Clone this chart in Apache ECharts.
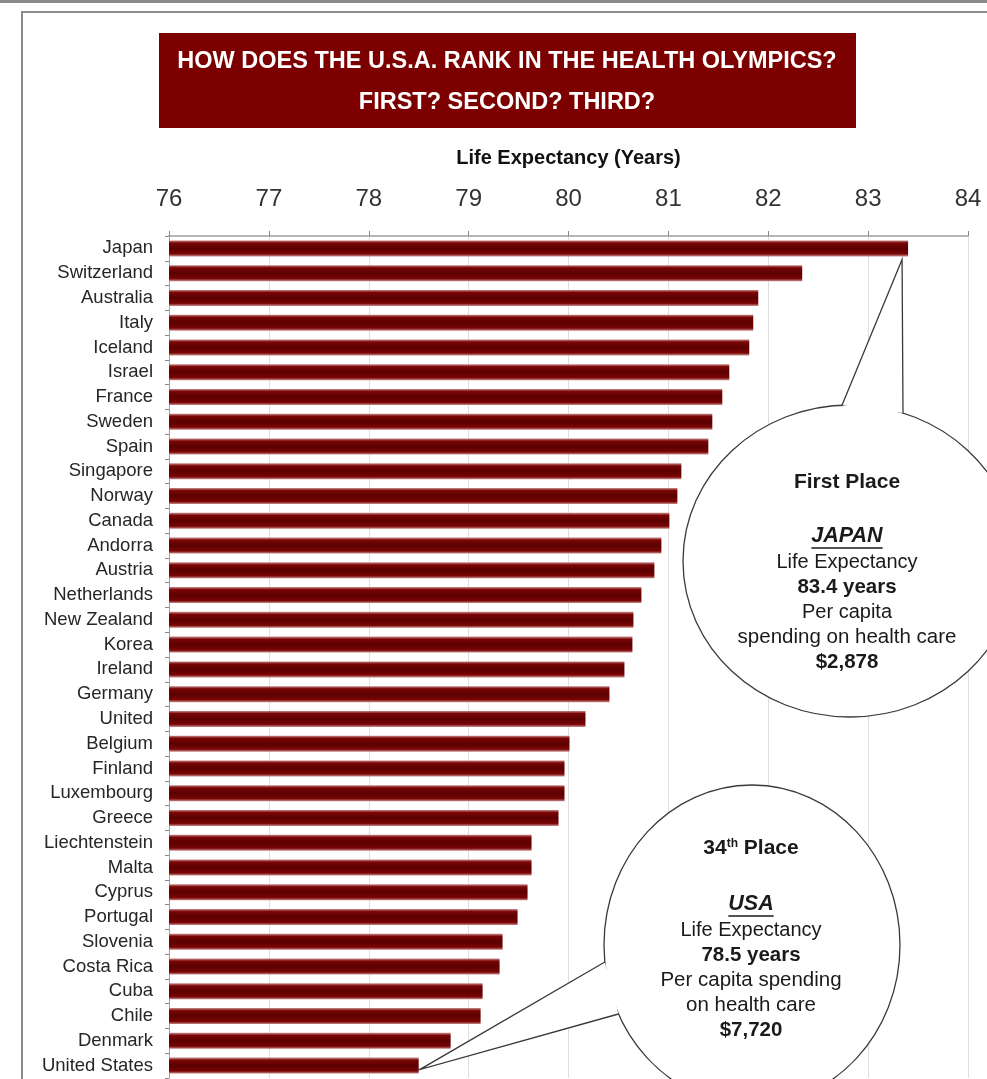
<!DOCTYPE html>
<html><head><meta charset="utf-8">
<script src="https://cdn.jsdelivr.net/npm/echarts@6/dist/echarts.min.js"></script>
<style>html,body{margin:0;padding:0;background:#fff}#c{width:987px;height:1079px}</style>
</head><body><div id="c"></div><script>
// ---- data ----
const countries = ['Japan','Switzerland','Australia','Italy','Iceland','Israel','France','Sweden','Spain','Singapore','Norway','Canada','Andorra','Austria','Netherlands','New Zealand','Korea','Ireland','Germany','United','Belgium','Finland','Luxembourg','Greece','Liechtenstein','Malta','Cyprus','Portugal','Slovenia','Costa Rica','Cuba','Chile','Denmark','United States'];
const lifeExpectancy = [83.4,82.34,81.9,81.85,81.81,81.61,81.54,81.44,81.4,81.13,81.09,81.01,80.93,80.86,80.73,80.65,80.64,80.56,80.41,80.17,80.01,79.96,79.96,79.9,79.63,79.63,79.59,79.49,79.34,79.31,79.14,79.12,78.82,78.5];
const xTickLabels = [76,77,78,79,80,81,82,83,84];
const titleLines = ['HOW DOES THE U.S.A. RANK IN THE HEALTH OLYMPICS?','FIRST? SECOND? THIRD?'];
const axisTitle = 'Life Expectancy (Years)';
const callout1Lines = ['First Place','JAPAN','Life Expectancy','83.4 years','Per capita','spending on health care','$2,878'];
const callout2Lines = ['34','th',' Place','USA','Life Expectancy','78.5 years','Per capita spending','on health care','$7,720'];

const FF = "'Liberation Sans', Arial, sans-serif";

const chart = echarts.init(document.getElementById('c'), null, {renderer:'canvas'});

const barGradient = new echarts.graphic.LinearGradient(0,0,0,1,[
  {offset:0, color:'#c98a8a'},
  {offset:0.16, color:'#7a0505'},
  {offset:0.5, color:'#5c0000'},
  {offset:0.84, color:'#7a0505'},
  {offset:1, color:'#c98a8a'}
]);

chart.setOption({
  animation:false,
  backgroundColor:'#fff',
  grid:{left:169, right:19, top:236, bottom:1},
  xAxis:{
    type:'value', position:'top',
    min:xTickLabels[0], max:xTickLabels[xTickLabels.length-1], interval:1,
    name:axisTitle, nameLocation:'middle', nameGap:68,
    nameTextStyle:{fontFamily:FF, fontWeight:'bold', fontSize:20, color:'#111'},
    axisLine:{show:true, lineStyle:{color:'#9aa0a6', width:1.5}},
    axisTick:{show:true, length:5, lineStyle:{color:'#888'}},
    axisLabel:{fontFamily:FF, fontSize:24, color:'#333', margin:25},
    splitLine:{show:true, lineStyle:{color:'#dedede', width:1}}
  },
  yAxis:{
    type:'category', data:countries, inverse:true,
    axisLine:{show:true, lineStyle:{color:'#a0a0a0'}},
    axisTick:{show:true, length:4, lineStyle:{color:'#888'}},
    axisLabel:{fontFamily:FF, fontSize:18.5, color:'#262626', margin:16, interval:0},
    splitLine:{show:false}
  },
  series:[{
    type:'bar', data:lifeExpectancy, barWidth:16,
    itemStyle:{color:barGradient, shadowColor:'rgba(210,130,130,0.35)', shadowBlur:3}
  }]
});

const measureCtx = document.createElement('canvas').getContext('2d');
function textWidth(t, font){ measureCtx.font = font; return measureCtx.measureText(t).width; }

function txt(x, y, t, size, weight, style){
  return {type:'text', z:30, style:{x:x, y:y, text:t, fill:'#1a1a1a', fontFamily:FF, fontSize:size,
    fontWeight:weight||'normal', fontStyle:style||'normal', align:'center', verticalAlign:'middle'}};
}

function bubble(e, tip, p1, p2, side){
  let b1, b2;
  if (side === 'top'){
    b1 = [p1, e.cy - e.ry*Math.sqrt(1-Math.pow((p1-e.cx)/e.rx,2))];
    b2 = [p2, e.cy - e.ry*Math.sqrt(1-Math.pow((p2-e.cx)/e.rx,2))];
  } else {
    b1 = [e.cx - e.rx*Math.sqrt(1-Math.pow((p1-e.cy)/e.ry,2)), p1];
    b2 = [e.cx - e.rx*Math.sqrt(1-Math.pow((p2-e.cy)/e.ry,2)), p2];
  }
  return [
    {type:'ellipse', z:20, shape:{cx:e.cx, cy:e.cy, rx:e.rx, ry:e.ry}, style:{fill:'#fff', stroke:'#3a3a3a', lineWidth:1.3}},
    {type:'polygon', z:21, shape:{points:[b1, tip, b2]}, style:{fill:'#fff', stroke:null}},
    {type:'polyline', z:22, shape:{points:[b1, tip, b2]}, style:{fill:null, stroke:'#3a3a3a', lineWidth:1.3}}
  ];
}

function build(){
  const g = [];
  g.push({type:'rect', z:1, shape:{x:0,y:0,width:987,height:3}, style:{fill:'#8a8a8a'}});
  g.push({type:'rect', z:1, shape:{x:22,y:12,width:1000,height:1100}, style:{fill:null, stroke:'#8c8c8c', lineWidth:2}});
  g.push({type:'rect', z:5, shape:{x:159,y:33,width:697,height:95}, style:{fill:'#7d0000'}});
  g.push({type:'text', z:6, style:{x:507, y:62, text:titleLines[0], fill:'#fff', fontFamily:FF, fontSize:23.5, fontWeight:'bold', align:'center', verticalAlign:'middle'}});
  g.push({type:'text', z:6, style:{x:507, y:103, text:titleLines[1], fill:'#fff', fontFamily:FF, fontSize:23.5, fontWeight:'bold', align:'center', verticalAlign:'middle'}});

  const pJ = chart.convertToPixel({gridIndex:0}, [lifeExpectancy[0], 0]);
  const tip1 = [pJ[0]-6, pJ[1]+11];
  const e1 = {cx:850, cy:561, rx:167, ry:156};
  bubble(e1, tip1, 842, 903, 'top').forEach(o=>g.push(o));
  const c1x = 847;
  g.push(txt(c1x, 482, callout1Lines[0], 21, 'bold'));
  g.push(txt(c1x, 536, callout1Lines[1], 21.5, 'bold', 'italic'));
  const w1 = textWidth(callout1Lines[1], 'italic bold 21.5px ' + FF);
  g.push({type:'line', z:30, shape:{x1:c1x-w1/2, y1:548, x2:c1x+w1/2, y2:548}, style:{stroke:'#1a1a1a', lineWidth:1.5}});
  g.push(txt(c1x, 562, callout1Lines[2], 20));
  g.push(txt(c1x, 587, callout1Lines[3], 20.5, 'bold'));
  g.push(txt(c1x, 612, callout1Lines[4], 20));
  g.push(txt(c1x, 637, callout1Lines[5], 20.5));
  g.push(txt(c1x, 662, callout1Lines[6], 20.5, 'bold'));

  const last = countries.length-1;
  const pU = chart.convertToPixel({gridIndex:0}, [lifeExpectancy[last], last]);
  const tip2 = [pU[0]+1, pU[1]+4];
  const e2 = {cx:752, cy:945, rx:148, ry:160};
  bubble(e2, tip2, 962, 1014, 'left').forEach(o=>g.push(o));
  const c2x = 751;
  g.push({type:'text', z:30, style:{x:c2x, y:848, text:'{a|'+callout2Lines[0]+'}{s|'+callout2Lines[1]+'}{a|'+callout2Lines[2]+'}',
    align:'center', verticalAlign:'middle', fill:'#1a1a1a',
    rich:{a:{fontFamily:FF, fontSize:21, fontWeight:'bold', fill:'#1a1a1a'}, s:{fontFamily:FF, fontSize:12, fontWeight:'bold', fill:'#1a1a1a', verticalAlign:'top'}}}});
  g.push(txt(c2x, 904, callout2Lines[3], 21.5, 'bold', 'italic'));
  const w2 = textWidth(callout2Lines[3], 'italic bold 21.5px ' + FF);
  g.push({type:'line', z:30, shape:{x1:c2x-w2/2, y1:916, x2:c2x+w2/2, y2:916}, style:{stroke:'#1a1a1a', lineWidth:1.5}});
  g.push(txt(c2x, 930, callout2Lines[4], 20));
  g.push(txt(c2x, 955, callout2Lines[5], 20.5, 'bold'));
  g.push(txt(c2x, 980, callout2Lines[6], 20.5));
  g.push(txt(c2x, 1005, callout2Lines[7], 20.5));
  g.push(txt(c2x, 1030, callout2Lines[8], 20.5, 'bold'));
  chart.setOption({graphic:{elements:g}});
}
build();
</script></body></html>
